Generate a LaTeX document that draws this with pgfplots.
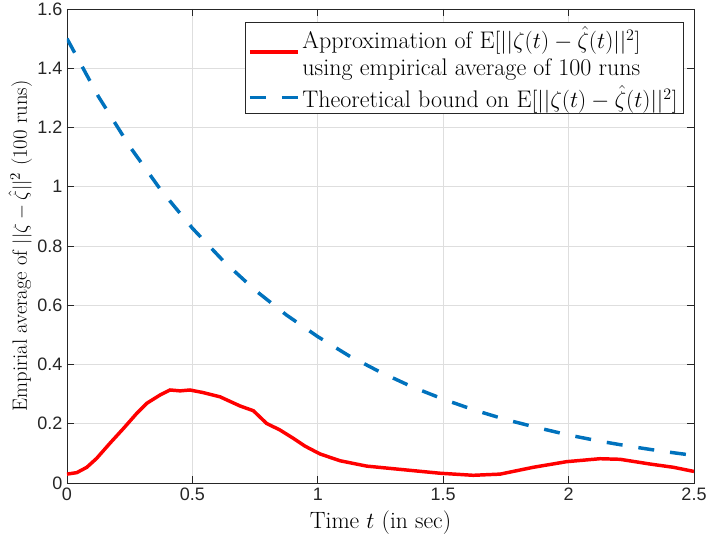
\documentclass[border=0pt]{standalone}
\usepackage{fontspec}
\setsansfont{Liberation Sans}
\usepackage{pgfplots}
\pgfplotsset{compat=1.18}
\definecolor{mred}{rgb}{1,0,0}
\definecolor{mblue}{rgb}{0,0.447,0.741}
\definecolor{axgray}{rgb}{0.15,0.15,0.15}
\definecolor{gridgray}{rgb}{0.87,0.87,0.87}

\begin{document}
\begin{tikzpicture}
\begin{axis}[
    scale only axis,
    width=470.25pt, height=355.5pt,
    xmin=0, xmax=2.5, ymin=0, ymax=1.6,
    xtick={0,0.5,1,1.5,2,2.5},
    ytick={0,0.2,0.4,0.6,0.8,1,1.2,1.4,1.6},
    tick align=inside,
    major tick length=5pt,
    grid=major,
    grid style={gridgray, line width=0.5pt},
    axis line style={axgray, line width=0.6pt},
    tick style={axgray, line width=0.6pt},
    /pgf/number format/assume math mode=true,
    ticklabel style={font=\sffamily\fontsize{13.5}{15}\selectfont, text=axgray},
    xlabel={Time $t$ (in sec)},
    ylabel={Empirial average of $||\zeta-\hat{\zeta}||^2$ (100 runs)},
    xlabel style={font=\fontsize{17.7}{20}\selectfont,
        at={(axis description cs:0.5,-0.083)}, anchor=center},
    ylabel style={font=\fontsize{15.5}{17}\selectfont,
        at={(axis description cs:-0.0745,0.5)}, anchor=center},
    legend cell align=left,
    legend image code/.code={\draw[#1] (0pt,0pt) -- (36pt,0pt);},
    legend style={at={(0.983,0.972)}, anchor=north east, draw=axgray, line width=0.6pt,
        font=\fontsize{18}{20}\selectfont, cells={align=left},
        inner xsep=2pt, inner ysep=1pt, row sep=2pt},
]
\addplot[mred, line width=2.6pt] coordinates {
(0.000,0.030) (0.039,0.035) (0.079,0.053) (0.118,0.083) (0.171,0.134)
(0.225,0.184) (0.278,0.235) (0.318,0.269) (0.371,0.297) (0.411,0.314)
(0.451,0.311) (0.490,0.314) (0.544,0.305) (0.610,0.291) (0.690,0.260)
(0.743,0.244) (0.796,0.201) (0.849,0.179) (0.902,0.151) (0.950,0.124)
(1.009,0.098) (1.089,0.075) (1.195,0.057) (1.328,0.046) (1.487,0.033)
(1.620,0.026) (1.727,0.030) (1.859,0.053) (1.992,0.072) (2.125,0.082)
(2.205,0.080) (2.325,0.064) (2.418,0.053) (2.500,0.039)
};
\addlegendentry{Approximation of $\mathrm{E}[||\zeta(t)-\hat{\zeta}(t)||^2]$\\using empirical average of 100 runs}
\addplot[mblue, line width=2.6pt, dash pattern=on 12pt off 12pt] coordinates {
(0.000,1.500) (0.125,1.305) (0.250,1.136) (0.375,0.988) (0.500,0.860)
(0.625,0.748) (0.750,0.651) (0.875,0.567) (1.000,0.494) (1.125,0.429)
(1.250,0.374) (1.375,0.325) (1.500,0.283) (1.625,0.246) (1.750,0.214)
(1.875,0.187) (2.000,0.162) (2.125,0.141) (2.250,0.123) (2.375,0.107)
(2.500,0.093)
};
\addlegendentry{Theoretical bound on $\mathrm{E}[||\zeta(t)-\hat{\zeta}(t)||^2]$}
\end{axis}
\pgfresetboundingbox
\path ([shift={(-50.25pt,-45pt)}]current axis.south west)
  rectangle ([shift={(9pt,6.75pt)}]current axis.north east);
\end{tikzpicture}
\end{document}
